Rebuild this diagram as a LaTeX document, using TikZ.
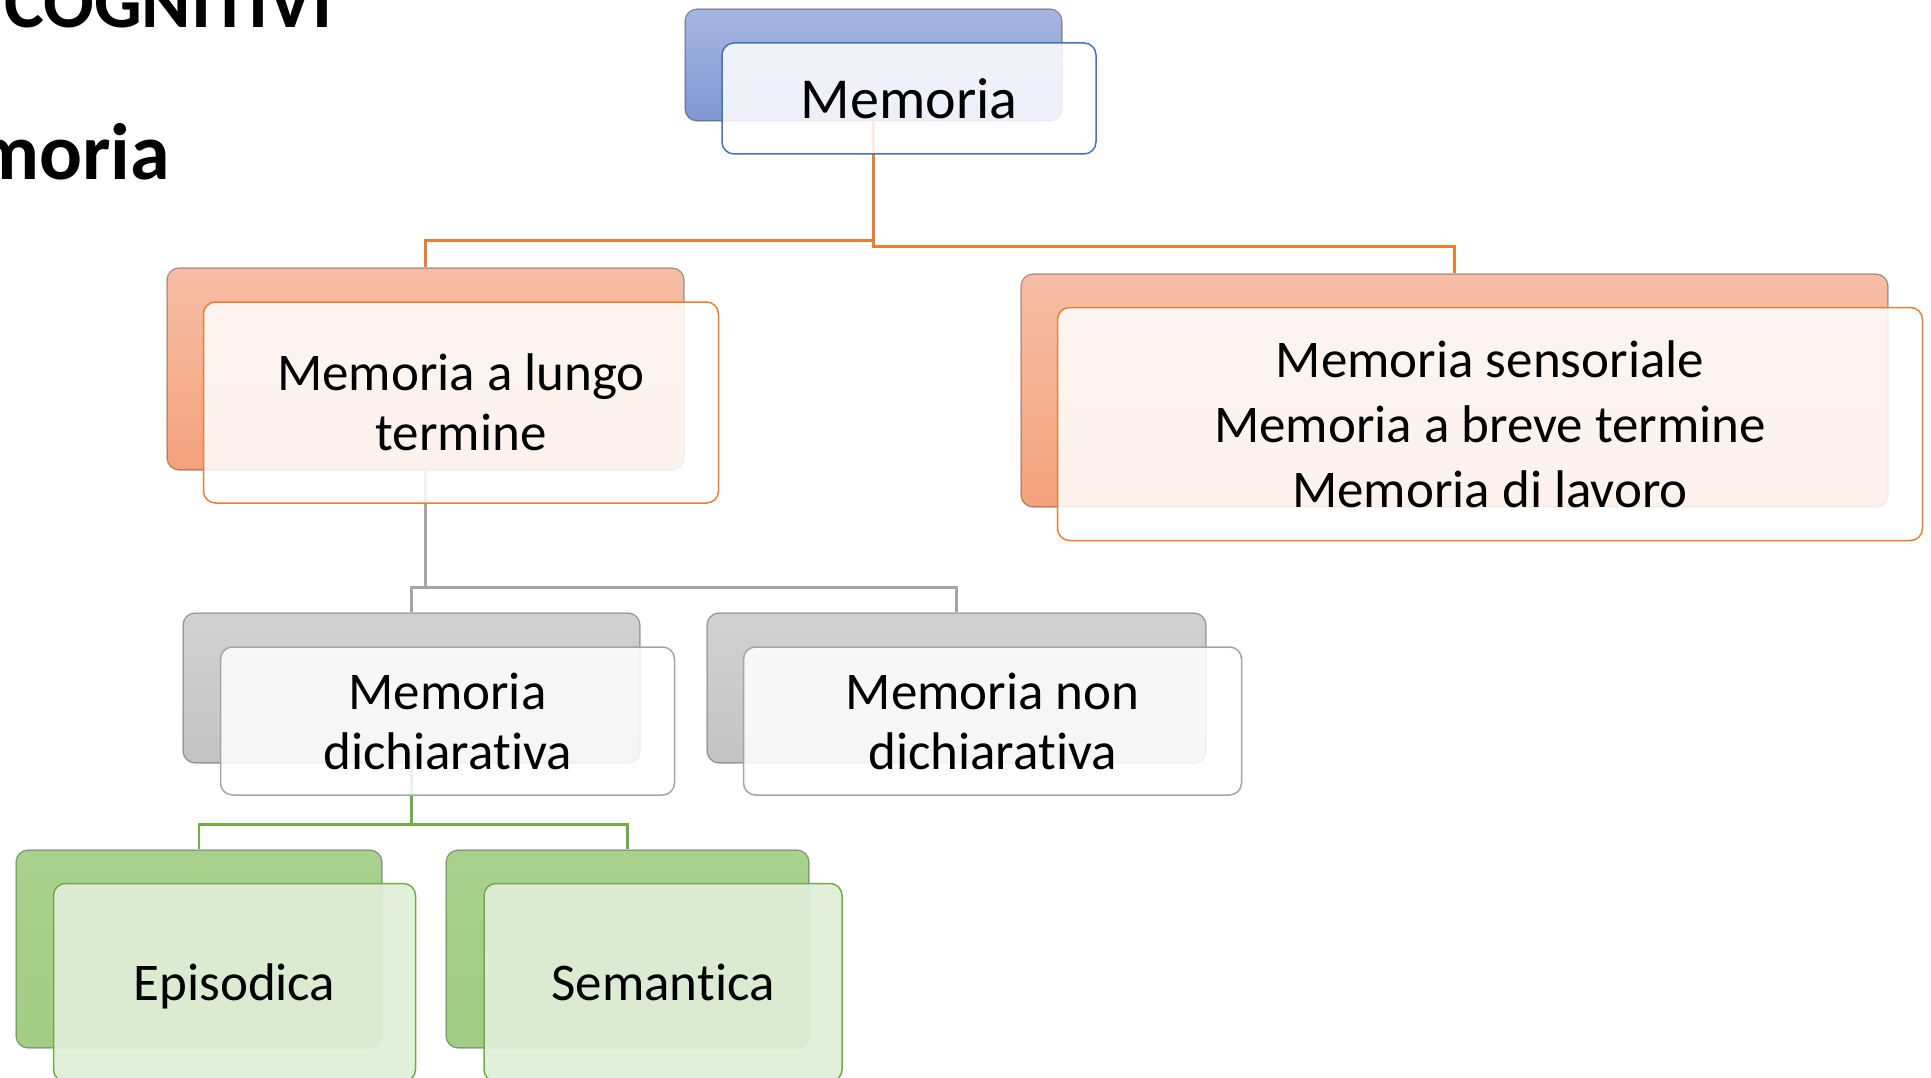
\documentclass[tikz,border=0pt]{standalone}
\usepackage{fontspec}
\setmainfont{Carlito}[Ligatures=CommonOff]
\usetikzlibrary{positioning}

\definecolor{bluetop}{HTML}{A7B6E0}
\definecolor{bluebot}{HTML}{7F97D2}
\definecolor{blueline}{HTML}{4472C4}
\definecolor{orangetop}{HTML}{F6BEA6}
\definecolor{orangebot}{HTML}{F4A27C}
\definecolor{orangeline}{HTML}{ED7D31}
\definecolor{graytop}{HTML}{D1D1D1}
\definecolor{graybot}{HTML}{C4C4C4}
\definecolor{grayline}{HTML}{A5A5A5}
\definecolor{greentop}{HTML}{A9D18E}
\definecolor{greenbot}{HTML}{A2CD84}
\definecolor{greenfill}{HTML}{E0EED8}
\definecolor{greenline}{HTML}{70AD47}

\begin{document}
\begin{tikzpicture}[
		x=1pt,y=-1pt,
		every node/.style={rounded corners=12pt,align=center,inner sep=0pt},
		back/.style={draw=black,draw opacity=0.35,line width=1.2pt},
		front/.style={fill=white,fill opacity=0.86,text opacity=1,line width=1.5pt,
			text depth=0pt,font=\fontsize{53}{60}\selectfont},
		bluebk/.style={back,top color=bluetop,bottom color=bluebot},
		orangebk/.style={back,top color=orangetop,bottom color=orangebot},
		graybk/.style={back,top color=graytop,bottom color=graybot},
		greenbk/.style={back,top color=greentop,bottom color=greenbot},
		bluefr/.style={front,draw=blueline},
		orangefr/.style={front,draw=orangeline},
		grayfr/.style={front,draw=grayline},
		greenfr/.style={front,fill=greenfill,fill opacity=0.93,draw=greenline},
		link/.style={line width=2.5pt}
		]
		\clip (0,0) rectangle (1931,1078);
		
		% titolo della slide
		\node[font=\bfseries\fontsize{75}{80}\selectfont,anchor=base east] (titolo) at (333,28) {COGNITIVI};
		\node[font=\bfseries\fontsize{80}{86}\selectfont,anchor=base east] (sottotitolo) at (170,179.5) {moria};
		
		% riquadri di sfondo
		\node[bluebk,minimum width=377pt,minimum height=112pt] (memB) at (873.5,65) {};
		\node[orangebk,minimum width=517pt,minimum height=202pt] (lungoB) at (425.5,369) {};
		\node[orangebk,minimum width=867pt,minimum height=233pt] (breveB) at (1454.5,390.5) {};
		\node[graybk,minimum width=457pt,minimum height=150pt] (dichB) at (411.5,688) {};
		\node[graybk,minimum width=499pt,minimum height=150pt] (nondichB) at (956.5,688) {};
		\node[greenbk,minimum width=366pt,minimum height=198pt] (episB) at (199,949) {};
		\node[greenbk,minimum width=363pt,minimum height=198pt] (semB) at (627.5,949) {};
		
		% collegamenti
		\draw[link,orangeline] (memB.south) -- ++(0,119) -| (lungoB.north);
		\draw[link,orangeline] (memB.south) -- ++(0,125) -| (breveB.north);
		\draw[link,grayline] (lungoB.south) -- ++(0,117) -| (dichB.north);
		\draw[link,grayline] (lungoB.south) -- ++(0,117) -| (nondichB.north);
		\draw[link,greenline] (dichB.south) -- ++(0,61) -| (episB.north);
		\draw[link,greenline] (dichB.south) -- ++(0,61) -| (semB.north);
		
		% riquadri con testo
		\node[bluefr,font=\fontsize{58}{64}\selectfont,minimum width=374pt,minimum height=111pt] (mem)
			at ([shift={(35.5,33.5)}]memB.center) {Memoria};
		\node[orangefr,minimum width=515pt,minimum height=201pt] (lungo)
			at ([shift={(35.5,33.5)}]lungoB.center) {Memoria a lungo\\termine};
		\node[orangefr,font=\fontsize{53}{65}\selectfont,minimum width=865pt,minimum height=233pt] (breve)
			at ([shift={(35.5,33.5)}]breveB.center) {Memoria sensoriale\\Memoria a breve termine\\Memoria di lavoro};
		\node[grayfr,minimum width=454pt,minimum height=148pt] (dich)
			at ([shift={(36,33)}]dichB.center) {Memoria\\dichiarativa};
		\node[grayfr,minimum width=498pt,minimum height=148pt] (nondich)
			at ([shift={(36,33)}]nondichB.center) {Memoria non\\dichiarativa};
		\node[greenfr,minimum width=362pt,minimum height=198pt] (epis)
			at ([shift={(35.5,33.5)}]episB.center) {Episodica};
		\node[greenfr,minimum width=358pt,minimum height=198pt] (sem)
			at ([shift={(35.5,33.5)}]semB.center) {Semantica};
\end{tikzpicture}
\end{document}
